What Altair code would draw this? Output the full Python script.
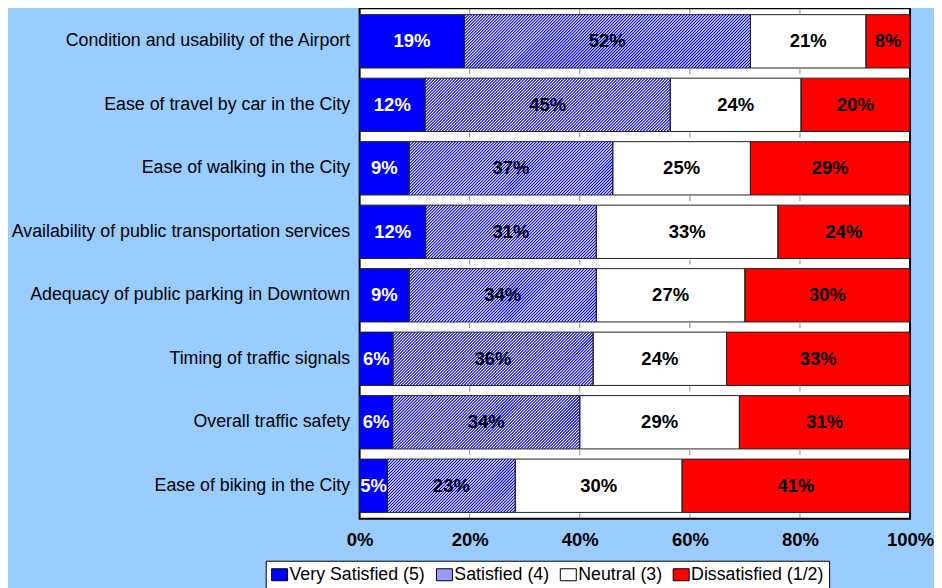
import altair as alt
import pandas as pd

# ---------------- data ----------------
items = [
    "Condition and usability of the Airport",
    "Ease of travel by car in the City",
    "Ease of walking in the City",
    "Availability of public transportation services",
    "Adequacy of public parking in Downtown",
    "Timing of traffic signals",
    "Overall traffic safety",
    "Ease of biking in the City",
]
levels = ["Very Satisfied (5)", "Satisfied (4)", "Neutral (3)", "Dissatisfied (1/2)"]
very_satisfied = [19, 12, 9, 12, 9, 6, 6, 5]
satisfied = [52, 45, 37, 31, 34, 36, 34, 23]
neutral = [21, 24, 25, 33, 27, 24, 29, 30]
dissatisfied = [8, 20, 29, 24, 30, 33, 31, 41]
x_ticks = [0, 20, 40, 60, 80, 100]
inner_ticks = [20, 40, 60, 80]

# ---------------- styling ----------------
FONT = "Liberation Sans"
level_colors = ["#0000FF", "#9A9AF8", "#FFFFFF", "#FF0000"]
W, H = 551, 511
PAD_IN, PAD_OUT = 0.16, 0.1
step = H / (len(items) - PAD_IN + 2 * PAD_OUT)
bar_h = step * (1 - PAD_IN)
PERIOD = 3.0  # horizontal spacing of the hatch lines, px

rows = []
series = [very_satisfied, satisfied, neutral, dissatisfied]
for i, name in enumerate(items):
    vals = [s[i] for s in series]
    tot = sum(vals)
    cum = 0
    for lvl, v in zip(levels, vals):
        start = cum / tot * 100
        cum += v
        end = cum / tot * 100
        rows.append(dict(item=name, level=lvl, value=v, start=start, end=end,
                         mid=(start + end) / 2, label=f"{v}%",
                         tcolor="#FFFFFF" if lvl == levels[0] else "#000000"))
df = pd.DataFrame(rows)
tick_df = pd.DataFrame([dict(item=it, t=t) for it in items for t in inner_ticks])
top_tick_df = pd.DataFrame(dict(t=inner_ticks))


def hatch_path(w, h, period=PERIOD):
    """Diagonal (/) hatch lines clipped to a w x h box centred on the origin (px)."""
    parts = []
    c = -w / 2 - h / 2 + period / 2
    while c < w / 2 + h / 2:
        x_lo = max(-w / 2, c - h / 2)
        x_hi = min(w / 2, c + h / 2)
        if x_hi - x_lo > 0.05:
            parts.append(f"M{x_lo:.2f},{c - x_lo:.2f}L{x_hi:.2f},{c - x_hi:.2f}")
        c += period
    return "".join(parts)


sat_df = df[df["level"] == levels[1]].copy()
sat_df["path"] = [hatch_path((e - s) / 100 * W, bar_h)
                  for s, e in zip(sat_df["start"], sat_df["end"])]

xscale = alt.Scale(domain=[0, 100], nice=False, zero=True)
yscale = alt.Scale(domain=items, paddingInner=PAD_IN, paddingOuter=PAD_OUT)
x_axis = alt.Axis(values=x_ticks, labelExpr="datum.value + '%'", title=None,
                  domain=False, ticks=False, tickSize=0, grid=False,
                  labelPadding=12, labelFlush=False, labelOverlap=False,
                  labelFont=FONT, labelFontSize=18.5, labelFontWeight="bold",
                  labelColor="#000000")
y_axis = alt.Axis(title=None, domain=False, ticks=False, tickSize=0,
                  labelPadding=10, labelFont=FONT, labelFontSize=17.8,
                  labelColor="#000000", labelLimit=400)


def X(field):
    return alt.X(field, scale=xscale, axis=x_axis)


def Y():
    return alt.Y("item:N", scale=yscale, sort=None, axis=y_axis)


base = alt.Chart(df)

bars = base.mark_bar(strokeWidth=0).encode(
    x=X("start:Q"),
    x2="end:Q",
    y=Y(),
    color=alt.Color("level:N",
                    scale=alt.Scale(domain=levels, range=level_colors),
                    legend=alt.Legend(title=None, orient="none", legendX=-94, legendY=553,
                                      direction="horizontal", columns=4,
                                      fillColor="#FFFFFF", strokeColor="#000000",
                                      padding=5, symbolType="M-1,-0.75H1V0.75H-1Z",
                                      symbolSize=256,
                                      symbolStrokeColor="#000000", symbolStrokeWidth=1,
                                      labelFont=FONT, labelFontSize=17.8,
                                      labelColor="#000000", labelOffset=1,
                                      columnPadding=8, labelLimit=300)),
)

sat_base = alt.Chart(sat_df)

underlay = sat_base.mark_bar(color="#FFFFFF", strokeWidth=0).encode(
    x=X("start:Q"), x2="end:Q", y=Y()
)

hatch = sat_base.mark_point(filled=False, color="#0000FF", strokeWidth=1.1,
                            opacity=1, size=4).encode(
    x=X("mid:Q"),
    y=Y(),
    shape=alt.Shape("path:N", scale=None, legend=None),
)

outline = base.mark_bar(fillOpacity=0, stroke="#222222", strokeWidth=1).encode(
    x=X("start:Q"), x2="end:Q", y=Y()
)

ticks = alt.Chart(tick_df).mark_tick(
    orient="vertical", color="#555555", thickness=1, size=5, yOffset=bar_h / 2 + 3.5
).encode(x=X("t:Q"), y=Y())

top_ticks = alt.Chart(top_tick_df).mark_tick(
    orient="vertical", color="#555555", thickness=1, size=5
).encode(x=X("t:Q"), y=alt.value(3))

text = base.mark_text(font=FONT, fontSize=18.5, fontWeight="bold", baseline="middle",
                      align="center").encode(
    x=X("mid:Q"),
    y=Y(),
    text="label:N",
    color=alt.Color("tcolor:N", scale=None, legend=None),
)

chart = alt.layer(bars, underlay, hatch, outline, ticks, top_ticks, text).properties(
    width=W, height=H,
    padding={"left": 352, "top": 0, "right": 24, "bottom": 80},
    autosize=alt.AutoSizeParams(type="none"),
    background="#99CCFF",
).configure_view(stroke="#000000", strokeWidth=2, fill="#FFFFFF")

chart.save("out.html", embed_options={"renderer": "svg", "actions": False})
